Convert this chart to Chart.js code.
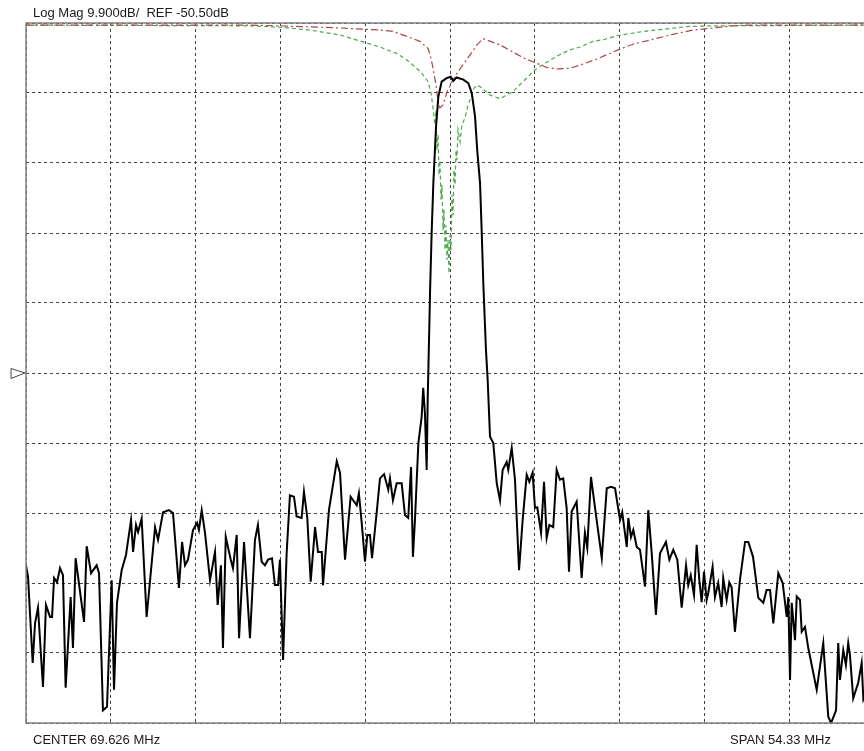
<!DOCTYPE html>
<html>
<head>
<meta charset="utf-8">
<script src="https://cdn.jsdelivr.net/npm/chart.js@4"></script>
<style>
  html, body { margin: 0; padding: 0; background: #fff; overflow: hidden; }
  #wrap { position: relative; width: 864px; height: 751px; overflow: hidden; }
  canvas { position: absolute; left: 0; top: 0; }
  .lbl { position: absolute; font: 13px "Liberation Sans", Arial, sans-serif; color: #1a1a1a; white-space: pre; line-height: 15px; }
</style>
</head>
<body>
<div id="wrap">
  <canvas id="vna" width="876" height="751"></canvas>
  <div class="lbl" style="left:33px; top:5px;">Log Mag 9.900dB/  REF -50.50dB</div>
  <div class="lbl" style="left:33px; top:732px;">CENTER 69.626 MHz</div>
  <div class="lbl" style="left:730px; top:732px;">SPAN 54.33 MHz</div>
</div>
<script>
// sweep settings
const centerMHz = 69.626;
const spanMHz = 54.33;
const refDb = -50.5;
const dbPerDiv = 9.9;

// S21 trace (black)
const s21Freq = [
  42.46, 42.59, 42.89, 43.04, 43.23, 43.55, 43.74, 44.00, 44.13, 44.26, 44.45, 44.64, 44.83, 45.00, 45.32, 45.47,
  45.64, 46.18, 46.35, 46.63, 46.99, 47.14, 47.39, 47.65, 47.95, 48.10, 48.29, 48.59, 48.87, 49.19, 49.32, 49.51,
  49.64, 49.87, 50.19, 50.73, 50.92, 51.24, 51.62, 51.88, 52.26, 52.46, 52.65, 52.84, 53.16, 53.42, 53.54, 53.72,
  53.93, 54.25, 54.57, 54.74, 54.95, 55.08, 55.26, 55.58, 55.72, 55.96, 56.11, 56.43, 56.81, 57.13, 57.32, 57.56,
  57.77, 57.97, 58.22, 58.41, 58.61, 58.73, 58.93, 59.16, 59.37, 59.63, 59.80, 60.12, 60.27, 60.48, 60.70, 60.98,
  61.17, 61.41, 61.49, 61.87, 62.37, 62.58, 62.90, 63.26, 63.65, 63.79, 63.97, 64.18, 64.33, 64.50, 64.63, 64.93,
  65.14, 65.40, 65.67, 65.78, 65.97, 66.21, 66.53, 66.74, 66.95, 67.13, 67.25, 67.38, 67.60, 67.81, 67.91, 68.02,
  68.13, 68.20, 68.30, 68.35, 68.45, 68.56, 68.73, 68.88, 69.09, 69.41, 69.67, 69.84, 70.05, 70.48, 70.80, 71.02,
  71.23, 71.37, 71.55, 71.66, 71.76, 71.93, 72.04, 72.19, 72.40, 72.62, 72.83, 73.00, 73.26, 73.36, 73.58, 73.79,
  74.05, 74.28, 74.54, 74.71, 74.92, 75.07, 75.22, 75.46, 75.65, 75.82, 75.99, 76.24, 76.46, 76.67, 76.88, 77.10,
  77.25, 77.42, 77.74, 78.06, 78.27, 78.42, 78.66, 78.92, 79.35, 79.67, 79.94, 80.20, 80.52, 80.66, 80.95, 81.05,
  81.22, 81.37, 81.59, 81.80, 82.12, 82.33, 82.55, 82.82, 83.08, 83.46, 83.68, 83.93, 84.19, 84.47, 84.75, 84.89,
  85.05, 85.26, 85.43, 85.60, 85.75, 85.90, 86.07, 86.18, 86.45, 86.60, 86.81, 87.03, 87.13, 87.35, 87.52, 87.67,
  87.88, 88.20, 88.53, 88.74, 89.04, 89.38, 89.70, 89.91, 90.13, 90.34, 90.66, 90.94, 91.20, 91.30, 91.41, 91.52,
  91.73, 91.84, 92.05, 92.16, 92.37, 92.58, 93.12, 93.54, 93.86, 94.04, 94.36, 94.50, 94.61, 94.82, 94.99, 95.14,
  95.25, 95.46, 95.78, 96.00, 96.11, 96.41, 96.79
];
const s21Db = [
  -77.7, -79.3, -91.5, -85.9, -83.7, -94.9, -83.3, -85.0, -85.0, -79.5, -80.1, -78.1, -79.1, -95.0, -82.2, -89.4,
  -76.7, -85.7, -75.0, -78.8, -77.7, -78.8, -98.2, -97.7, -79.8, -95.3, -83.0, -78.4, -76.2, -71.3, -75.8, -72.0,
  -73.0, -71.1, -85.0, -72.3, -74.1, -70.2, -69.9, -70.3, -80.9, -74.4, -77.7, -76.9, -72.7, -71.7, -72.7, -69.9,
  -73.1, -79.8, -75.8, -83.3, -77.7, -89.4, -73.7, -76.9, -78.1, -73.4, -88.0, -74.4, -88.0, -74.1, -72.0, -77.2,
  -77.7, -76.9, -76.7, -80.5, -80.5, -76.9, -91.1, -76.0, -67.8, -68.0, -70.8, -71.0, -67.3, -70.9, -80.0, -72.3,
  -75.8, -75.8, -80.5, -69.9, -63.0, -64.6, -76.9, -68.0, -69.2, -67.5, -71.7, -77.2, -73.4, -73.4, -76.7, -70.2,
  -65.4, -64.8, -67.0, -65.4, -68.5, -66.1, -66.1, -70.6, -71.0, -63.8, -76.5, -71.3, -60.4, -56.7, -52.6, -56.2,
  -64.2, -53.9, -44.0, -38.8, -30.7, -23.6, -15.7, -11.4, -9.3, -8.8, -8.6, -9.2, -8.7, -9.0, -9.5, -10.9,
  -14.2, -19.0, -23.6, -30.7, -37.8, -47.2, -51.5, -59.5, -60.4, -66.1, -68.5, -64.2, -63.1, -64.2, -61.1, -65.6,
  -78.4, -71.3, -64.9, -65.9, -64.6, -69.6, -69.5, -73.1, -65.9, -73.8, -72.0, -72.3, -64.2, -65.6, -65.4, -69.6,
  -78.6, -70.1, -68.7, -79.5, -73.1, -75.2, -65.2, -69.6, -76.7, -66.8, -66.6, -66.8, -71.3, -70.2, -75.1, -71.0,
  -73.7, -72.7, -75.1, -75.5, -80.7, -69.9, -76.0, -84.7, -76.0, -74.4, -76.9, -75.5, -76.9, -83.7, -77.7, -80.5,
  -79.1, -81.9, -74.8, -79.8, -82.9, -78.6, -82.6, -81.5, -77.9, -82.2, -80.2, -83.6, -79.5, -82.6, -80.1, -80.8,
  -87.1, -79.8, -74.4, -74.4, -76.5, -82.3, -83.0, -81.2, -81.2, -85.9, -78.8, -80.2, -85.0, -82.2, -93.9, -83.0,
  -88.3, -82.1, -82.6, -87.1, -86.4, -89.4, -95.3, -88.7, -99.1, -100.0, -98.2, -88.7, -93.9, -89.7, -91.8, -88.7,
  -90.4, -96.5, -94.3, -91.5, -96.7, -95.3, -93.9
];

// S22 trace (red, dash-dot)
const s22Freq = [
  42.46, 56.81, 60.02, 62.58, 65.14, 65.97, 66.87, 67.70, 68.22, 68.41, 68.54, 68.73, 68.86, 68.98, 69.18, 69.43,
  69.75, 70.14, 70.46, 70.91, 71.36, 71.74, 72.83, 73.66, 74.30, 75.07, 75.84, 76.54, 77.31, 78.15, 79.04, 79.75,
  80.52, 81.35, 82.63, 83.91, 85.19, 86.49, 87.76, 88.65, 96.79
];
const s22Db = [
  -1.3, -1.3, -1.5, -1.7, -2.0, -2.2, -2.9, -3.6, -4.6, -6.0, -7.4, -9.8, -11.9, -13.0, -12.6, -10.8,
  -9.3, -7.9, -6.9, -5.5, -4.1, -3.2, -4.1, -5.1, -5.9, -6.6, -7.3, -7.5, -7.4, -6.8, -6.1, -5.4,
  -4.7, -4.0, -3.3, -2.6, -2.0, -1.7, -1.4, -1.3, -1.3
];

// S11 trace (green, dashed)
const s11Freq = [
  42.46, 56.81, 58.73, 60.66, 62.58, 65.14, 66.21, 66.85, 67.49, 67.81, 68.22, 68.41, 68.54, 68.66, 68.73, 68.79,
  68.86, 68.92, 68.98, 69.05, 69.11, 69.18, 69.24, 69.31, 69.37, 69.43, 69.50, 69.56, 69.63, 69.69, 69.75, 69.82,
  69.88, 69.95, 70.01, 70.07, 70.14, 70.27, 70.39, 70.59, 70.78, 71.02, 71.16, 71.34, 71.55, 72.19, 72.83, 73.66,
  74.30, 75.07, 75.71, 76.54, 77.31, 77.95, 78.79, 79.56, 80.33, 81.16, 81.99, 83.27, 84.81, 86.49, 96.79
];
const s11Db = [
  -1.3, -1.4, -1.6, -2.0, -2.7, -4.4, -5.3, -6.2, -7.4, -8.1, -9.3, -10.9, -13.0, -15.4, -13.3, -19.0,
  -16.8, -22.5, -20.4, -26.0, -23.9, -30.3, -27.4, -33.1, -29.6, -34.5, -31.7, -36.4, -31.0, -33.1, -25.3, -28.2,
  -21.8, -23.9, -19.0, -20.4, -16.1, -17.8, -15.4, -14.4, -12.6, -11.2, -10.2, -9.8, -10.0, -11.2, -11.7, -10.7,
  -9.3, -7.6, -6.7, -5.6, -4.8, -4.4, -3.6, -3.3, -2.8, -2.5, -2.2, -1.9, -1.5, -1.4, -1.3
];

function toPoints(xs, ys) {
  return xs.map((x, i) => ({ x: x, y: ys[i] }));
}

const startMHz = centerMHz - spanMHz / 2;
const stopMHz = centerMHz + spanMHz / 2;
const topDb = refDb + 5 * dbPerDiv;
const bottomDb = refDb - 5 * dbPerDiv;

const frame = {
  id: 'frame',
  afterDraw(chart) {
    const { ctx, chartArea: a, scales } = chart;
    ctx.save();
    ctx.strokeStyle = '#808080';
    ctx.lineWidth = 1.5;
    ctx.strokeRect(a.left, a.top, a.right - a.left, a.bottom - a.top);
    // reference level marker
    const yRef = scales.y.getPixelForValue(refDb);
    ctx.strokeStyle = '#444';
    ctx.lineWidth = 1;
    ctx.beginPath();
    ctx.moveTo(11, yRef - 4.5);
    ctx.lineTo(11, yRef + 5.5);
    ctx.lineTo(25, yRef);
    ctx.closePath();
    ctx.stroke();
    ctx.restore();
  }
};

new Chart(document.getElementById('vna'), {
  type: 'scatter',
  data: {
    datasets: [
      {
        label: 'S21',
        data: toPoints(s21Freq, s21Db),
        showLine: true,
        borderColor: '#000',
        borderWidth: 2,
        pointRadius: 0,
        tension: 0
      },
      {
        label: 'S22',
        data: toPoints(s22Freq, s22Db),
        showLine: true,
        borderColor: '#a84848',
        borderWidth: 1.2,
        borderDash: [7, 3, 2, 3],
        pointRadius: 0,
        tension: 0
      },
      {
        label: 'S11',
        data: toPoints(s11Freq, s11Db),
        showLine: true,
        borderColor: '#4aa84a',
        borderWidth: 1.2,
        borderDash: [4, 3],
        pointRadius: 0,
        tension: 0
      }
    ]
  },
  options: {
    responsive: false,
    animation: false,
    layout: { padding: { left: 26, top: 23, right: 2, bottom: 28 } },
    plugins: { legend: { display: false }, tooltip: { enabled: false } },
    scales: {
      x: {
        type: 'linear',
        min: startMHz,
        max: stopMHz,
        afterBuildTicks: (axis) => {
          axis.ticks = Array.from({ length: 11 }, (_, i) => ({ value: startMHz + i * spanMHz / 10 }));
        },
        ticks: { display: false },
        grid: { color: '#444', lineWidth: 1, drawTicks: false },
        border: { display: false, dash: [3, 3] }
      },
      y: {
        type: 'linear',
        min: bottomDb,
        max: topDb,
        afterBuildTicks: (axis) => {
          axis.ticks = Array.from({ length: 11 }, (_, i) => ({ value: bottomDb + i * dbPerDiv }));
        },
        ticks: { display: false },
        grid: { color: '#444', lineWidth: 1, drawTicks: false },
        border: { display: false, dash: [3, 3] }
      }
    }
  },
  plugins: [frame]
});
</script>
</body>
</html>
